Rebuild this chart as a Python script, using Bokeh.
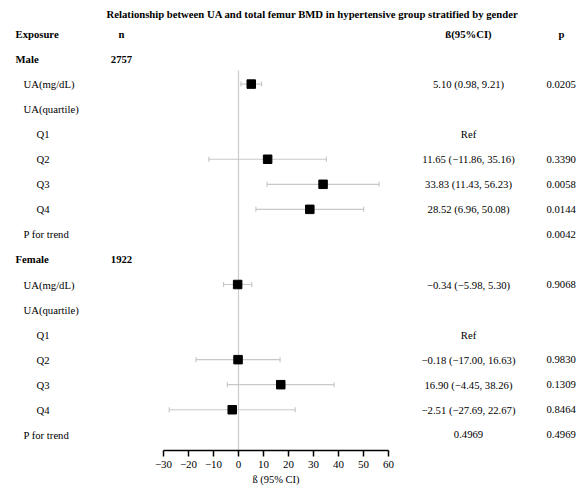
from bokeh.plotting import figure
from bokeh.models import Range1d, LinearAxis, FixedTicker, ColumnDataSource
from bokeh.core.properties import value
from bokeh.embed import file_html
from bokeh.resources import INLINE

# ---------------- data ----------------
title = "Relationship between UA and total femur BMD in hypertensive group stratified by gender"
headers = ["Exposure", "n", "ß(95%CI)", "p"]
row_labels = ["Male", "UA(mg/dL)", "UA(quartile)", "Q1", "Q2", "Q3", "Q4", "P for trend",
              "Female", "UA(mg/dL)", "UA(quartile)", "Q1", "Q2", "Q3", "Q4", "P for trend"]
row_level = [0, 1, 1, 2, 2, 2, 2, 1, 0, 1, 1, 2, 2, 2, 2, 1]
n_text = ["2757", "", "", "", "", "", "", "", "1922", "", "", "", "", "", "", ""]
beta = [None, 5.10, None, None, 11.65, 33.83, 28.52, None,
        None, -0.34, None, None, -0.18, 16.90, -2.51, None]
lower = [None, 0.98, None, None, -11.86, 11.43, 6.96, None,
         None, -5.98, None, None, -17.00, -4.45, -27.69, None]
upper = [None, 9.21, None, None, 35.16, 56.23, 50.08, None,
         None, 5.30, None, None, 16.63, 38.26, 22.67, None]
ci_text = ["", "5.10 (0.98, 9.21)", "", "Ref", "11.65 (\u221211.86, 35.16)", "33.83 (11.43, 56.23)",
           "28.52 (6.96, 50.08)", "",
           "", "\u22120.34 (\u22125.98, 5.30)", "", "Ref", "\u22120.18 (\u221217.00, 16.63)",
           "16.90 (\u22124.45, 38.26)", "\u22122.51 (\u221227.69, 22.67)", "0.4969"]
p_text = ["", "0.0205", "", "", "0.3390", "0.0058", "0.0144", "0.0042",
          "", "0.9068", "", "", "0.9830", "0.1309", "0.8464", "0.4969"]
x_ticks = [-30, -20, -10, 0, 10, 20, 30, 40, 50, 60]
x_label = "ß (95% CI)"

# ---------------- layout helpers ----------------
W, H = 576, 490
PX_PER_UNIT = 2.5
ZERO_PX = 238
ROW0_PX = 33.5
ROW_H = 25.05
AXIS_PX = 449.5
FONT = value("Liberation Serif")
FS = "10.7px"


def px2x(px):
    return (px - ZERO_PX) / PX_PER_UNIT


def px2r(py):
    return (py - ROW0_PX) / ROW_H


p = figure(width=W, height=H,
           x_range=Range1d(px2x(0), px2x(W)),
           y_range=Range1d(px2r(H), px2r(0)),
           output_backend="svg", toolbar_location=None,
           x_axis_location=None, y_axis_location=None,
           min_border_left=0, min_border_right=0, min_border_top=0,
           min_border_bottom=0)
p.outline_line_color = None
p.xgrid.visible = False
p.ygrid.visible = False
p.background_fill_color = "white"

rows = [i + 1 for i in range(len(row_labels))]
indent_px = [15, 23, 36]

# title
p.text(x=[px2x(312)], y=[px2r(13.5)], text=[title], text_font=FONT, text_font_size="10.7px",
       text_font_style="bold", text_align="center", text_baseline="middle", text_color="black")

# headers
hdr_x = [px2x(15), px2x(121), px2x(468), px2x(561)]
hdr_align = ["left", "center", "center", "center"]
for hx, ht, ha in zip(hdr_x, headers, hdr_align):
    p.text(x=[hx], y=[0], text=[ht], text_font=FONT, text_font_size=FS, text_font_style="bold",
           text_align=ha, text_baseline="middle", text_color="black")

# row labels
lab_src = ColumnDataSource(dict(
    x=[px2x(indent_px[l]) for l in row_level], y=rows, text=row_labels,
    style=["bold" if l == 0 else "normal" for l in row_level]))
p.text(x="x", y="y", text="text", source=lab_src, text_font=FONT, text_font_size=FS,
       text_font_style="style", text_align="left", text_baseline="middle", text_color="black")

# n column
p.text(x=[px2x(121)] * len(rows), y=rows, text=n_text, text_font=FONT, text_font_size=FS,
       text_font_style="bold", text_align="center", text_baseline="middle", text_color="black")

# CI column
p.text(x=[px2x(468)] * len(rows), y=rows, text=ci_text, text_font=FONT, text_font_size=FS,
       text_align="center", text_baseline="middle", text_color="black")

# p column
p.text(x=[px2x(546)] * len(rows), y=rows, text=p_text, text_font=FONT, text_font_size=FS,
       text_align="left", text_baseline="middle", text_color="black")

# reference line at 0
p.segment(x0=[0], y0=[px2r(70)], x1=[0], y1=[px2r(AXIS_PX)], line_color="#cccccc",
          line_width=1.2)

# error bars and squares
ys = [r for r, b in zip(rows, beta) if b is not None]
bs = [b for b in beta if b is not None]
los = [l for l in lower if l is not None]
his = [h for h in upper if h is not None]
p.segment(x0=los, y0=ys, x1=his, y1=ys, line_color="#c8c8c8", line_width=1.2)
p.scatter(x=los + his, y=ys + ys, marker="dash", angle=1.5708, size=5,
          line_color="#c8c8c8", line_width=1.2)
p.scatter(x=bs, y=ys, marker="square", size=8.5, fill_color="black", line_color="black")

# axis (drawn at a fixed row position inside the frame)
ax = LinearAxis(bounds=(-30, 60), ticker=FixedTicker(ticks=x_ticks), axis_label=x_label,
                fixed_location=px2r(AXIS_PX))
ax.major_label_overrides = {t: (str(t).replace("-", "\u2212")) for t in x_ticks}
ax.axis_line_width = 1.5
ax.axis_line_color = "black"
ax.major_tick_line_width = 1.5
ax.major_tick_line_color = "black"
ax.major_tick_out = 6
ax.major_tick_in = 0
ax.minor_tick_line_color = None
ax.major_label_text_font = "Liberation Serif"
ax.major_label_text_font_size = "11px"
ax.major_label_text_color = "black"
ax.major_label_standoff = 5
ax.axis_label_text_font = "Liberation Serif"
ax.axis_label_text_font_size = "10.5px"
ax.axis_label_text_font_style = "normal"
ax.axis_label_text_color = "black"
ax.axis_label_standoff = 2
p.add_layout(ax, "below")

open("out.html", "w").write(file_html(p, INLINE))
